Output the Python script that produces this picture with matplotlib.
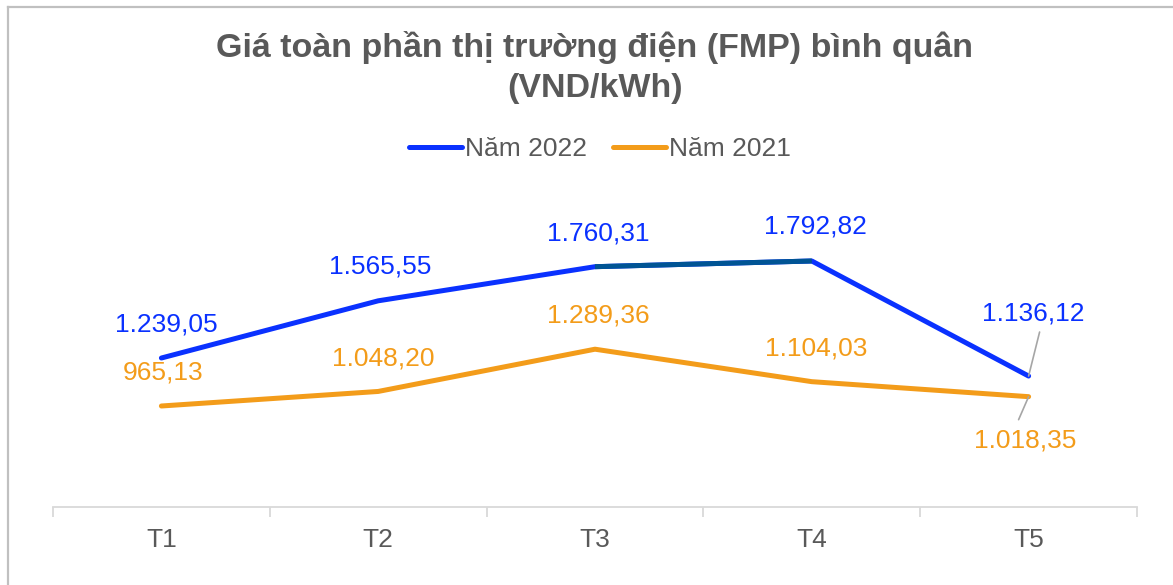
import matplotlib.pyplot as plt
from matplotlib.lines import Line2D

plt.rcParams['font.family'] = ['Liberation Sans', 'DejaVu Sans']

months = ["T1", "T2", "T3", "T4", "T5"]
fmp_2022 = [1239.05, 1565.55, 1760.31, 1792.82, 1136.12]
fmp_2021 = [965.13, 1048.20, 1289.36, 1104.03, 1018.35]

c_2022 = '#0A31FF'
c_2022_dark = '#005494'
c_2021 = '#F39C1A'
grey = '#595959'
fs = 19


def vn(v):
    # 1,239.05 -> 1.239,05
    return f"{v:,.2f}".replace(',', '#').replace('.', ',').replace('#', '.')


fig = plt.figure(figsize=(11.73, 5.85), dpi=100)
W, H = 1173, 585
# axes: x from 53 to 1137 px, bottom at y=507 px
ax = fig.add_axes([53 / W, 1 - 507 / H, (1137 - 53) / W, (507 - 200) / H])

x = list(range(len(months)))
ax.plot(x, fmp_2022, color=c_2022, lw=3.6, solid_capstyle='round', zorder=3)
ax.plot(x[2:4], fmp_2022[2:4], color=c_2022_dark, lw=3.6, solid_capstyle='butt', zorder=4)
ax.plot(x, fmp_2021, color=c_2021, lw=3.6, solid_capstyle='round', zorder=3)

ax.set_xlim(-0.5, len(months) - 0.5)
ax.set_ylim(388.6, 2141)

for s in ['left', 'right', 'top']:
    ax.spines[s].set_visible(False)
ax.spines['bottom'].set_color('#d9d9d9')
ax.spines['bottom'].set_linewidth(1.3)
ax.set_yticks([])
ax.set_xticks([i - 0.5 for i in range(len(months) + 1)], minor=False)
ax.set_xticklabels([])
ax.tick_params(axis='x', which='major', length=7, width=1.3, color='#d9d9d9', direction='out')
ax.set_xticks(x, minor=True)
ax.set_xticklabels(months, minor=True)
ax.tick_params(axis='x', which='minor', length=0, pad=15, labelsize=fs, labelcolor=grey)

# data labels (offsets in pixels)
off_2022 = [(5, 34), (2, 34), (3, 33), (4, 34), (5, 63)]
off_2021 = [(2, 33), (5, 33), (3, 34), (4, 33), (-3, -44)]
for i in range(len(months)):
    ax.annotate(vn(fmp_2022[i]), (x[i], fmp_2022[i]), xytext=off_2022[i], textcoords='offset pixels',
                ha='center', va='center', fontsize=fs, color=c_2022)
    ax.annotate(vn(fmp_2021[i]), (x[i], fmp_2021[i]), xytext=off_2021[i], textcoords='offset pixels',
                ha='center', va='center', fontsize=fs, color=c_2021)

# leader lines for T5
ax.annotate('', (x[4], fmp_2022[4]), xytext=(11, 44), textcoords='offset pixels',
            arrowprops=dict(arrowstyle='-', color='#a6a6a6', lw=1.2, shrinkA=0, shrinkB=0))
ax.annotate('', (x[4], fmp_2021[4]), xytext=(-10, -23), textcoords='offset pixels',
            arrowprops=dict(arrowstyle='-', color='#a6a6a6', lw=1.2, shrinkA=0, shrinkB=0))

fig.text(595 / W, 1 - 47 / H, "Giá toàn phần thị trường điện (FMP) bình quân",
         ha='center', va='center', fontsize=24.5, fontweight='bold', color=grey)
fig.text(595 / W, 1 - 88 / H, "(VND/kWh)",
         ha='center', va='center', fontsize=24.5, fontweight='bold', color=grey)

handles = [Line2D([], [], color=c_2022, lw=3.6, solid_capstyle='round'),
           Line2D([], [], color=c_2021, lw=3.6, solid_capstyle='round')]
fig.legend(handles, ["Năm 2022", "Năm 2021"], loc='center', bbox_to_anchor=(600 / W, 1 - 149 / H),
           ncol=2, frameon=False, fontsize=fs, labelcolor=grey, handlelength=2.0,
           handletextpad=0.1, columnspacing=1.0)

# outer frame (top and left edges visible)
fig.add_artist(Line2D([8 / W, 8 / W], [0, 1 - 7 / H], color='#c0c0c0', lw=1.6))
fig.add_artist(Line2D([8 / W, 1], [1 - 7 / H, 1 - 7 / H], color='#c0c0c0', lw=1.6))

fig.savefig('out.png', dpi=100)
